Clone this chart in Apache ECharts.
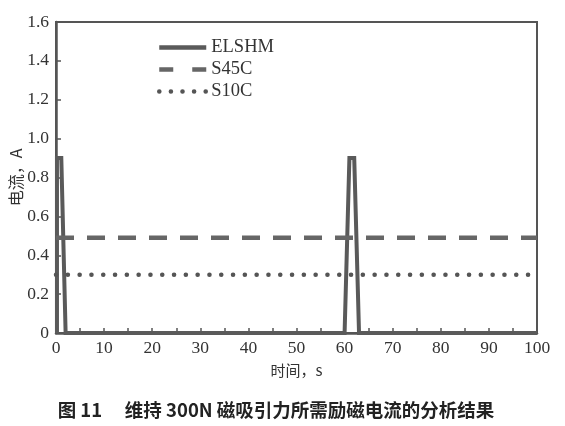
<!DOCTYPE html>
<html>
<head>
<meta charset="utf-8">
<script src="https://cdn.jsdelivr.net/npm/echarts@6/dist/echarts.min.js"></script>
<style>
html, body { margin: 0; padding: 0; background: #fff; }
#chart { width: 565px; height: 426px; }
</style>
</head>
<body>
<div id="chart"></div>
<script>
// datos
var seriesNames = ['ELSHM', 'S45C', 'S10C'];
var elshmTime = [0.2, 0.2, 1.1, 2, 60, 61, 62, 63, 100];
var elshmCurrent = [0, 0.9, 0.9, 0, 0, 0.9, 0.9, 0, 0];
var s45cTime = [0, 100];
var s45cCurrent = [0.49, 0.49];
var s10cTime = [0, 100];
var s10cCurrent = [0.3, 0.3];
var xLabels = [0, 10, 20, 30, 40, 50, 60, 70, 80, 90, 100];
var xTicks = [0, 5, 10, 15, 20, 25, 30, 35, 40, 45, 50, 55, 60, 65, 70, 75, 80, 85, 90, 95, 100];

function pares(xs, ys) {
  var out = [];
  for (var i = 0; i < xs.length; i++) out.push([xs[i], ys[i]]);
  return out;
}

var serif = 'Liberation Serif';
var gris = '#555';

var chart = echarts.init(document.getElementById('chart'));
chart.setOption({
  animation: false,
  backgroundColor: '#fff',
  title: {
    text: '图 11　 维持 300N 磁吸引力所需励磁电流的分析结果',
    left: 271,
    textAlign: 'center',
    top: 396,
    textStyle: { fontFamily: 'Noto Sans CJK SC', fontSize: 18.5, fontWeight: 'bold', color: '#222' }
  },
  legend: {
    orient: 'vertical',
    left: 152,
    top: 33,
    itemWidth: 47,
    itemHeight: 14,
    itemGap: 3,
    itemTextGap: 7,
    data: [
      { name: seriesNames[0], itemStyle: { opacity: 0 }, lineStyle: { color: '#5a5a5a', width: 4.5, type: 'solid' } },
      { name: seriesNames[1], itemStyle: { opacity: 0 }, lineStyle: { color: '#666', width: 4.5, type: [14, 19] } },
      { name: seriesNames[2], itemStyle: { opacity: 0 }, lineStyle: { color: '#555', width: 4.5, type: [0.1, 11.5], cap: 'round' } }
    ],
    textStyle: { fontFamily: serif, fontSize: 18.5, color: '#333' }
  },
  grid: {
    left: 56, top: 22, right: 28, bottom: 93,
    containLabel: false, outerBoundsMode: 'none',
    show: true, borderColor: gris, borderWidth: 2, backgroundColor: 'transparent'
  },
  xAxis: {
    type: 'value',
    min: 0, max: 100, interval: 10,
    name: '时间，s',
    nameLocation: 'middle',
    nameGap: 30,
    nameMoveOverlap: false,
    nameTextStyle: { fontFamily: 'Noto Sans CJK SC', fontSize: 15, color: '#333' },
    axisLine: { show: true, lineStyle: { color: gris, width: 2.5 } },
    axisTick: { show: true, inside: true, length: 5, customValues: xTicks, lineStyle: { color: gris, width: 1.5 } },
    axisLabel: { customValues: xLabels, fontFamily: serif, fontSize: 17.5, color: '#333', margin: 6 },
    splitLine: { show: false }
  },
  yAxis: {
    type: 'value',
    min: 0, max: 1.6, interval: 0.2,
    name: '电流，A',
    nameLocation: 'middle',
    nameGap: 32,
    nameMoveOverlap: false,
    nameRotate: 90,
    nameTextStyle: { fontFamily: 'Noto Sans CJK SC', fontSize: 16, color: '#333' },
    axisLine: { show: true, lineStyle: { color: gris, width: 2.5 } },
    axisTick: { show: true, inside: true, length: 5, lineStyle: { color: gris, width: 1.5 } },
    axisLabel: {
      fontFamily: serif, fontSize: 17.5, color: '#333', margin: 7,
      formatter: function (v) { return v === 0 ? '0' : v.toFixed(1); }
    },
    splitLine: { show: false }
  },
  series: [
    {
      name: seriesNames[0], type: 'line', showSymbol: false, symbol: 'none',
      data: pares(elshmTime, elshmCurrent),
      lineStyle: { color: '#5a5a5a', width: 4, join: 'miter' },
      itemStyle: { color: '#5a5a5a' }
    },
    {
      name: seriesNames[1], type: 'line', showSymbol: false, symbol: 'none',
      data: pares(s45cTime, s45cCurrent),
      lineStyle: { color: '#666', width: 4.5, type: [18, 13] },
      itemStyle: { color: '#666' }
    },
    {
      name: seriesNames[2], type: 'line', showSymbol: false, symbol: 'none',
      data: pares(s10cTime, s10cCurrent),
      lineStyle: { color: '#555', width: 4.5, type: [0.1, 11.7], cap: 'round' },
      itemStyle: { color: '#555' }
    }
  ]
});
</script>
</body>
</html>
